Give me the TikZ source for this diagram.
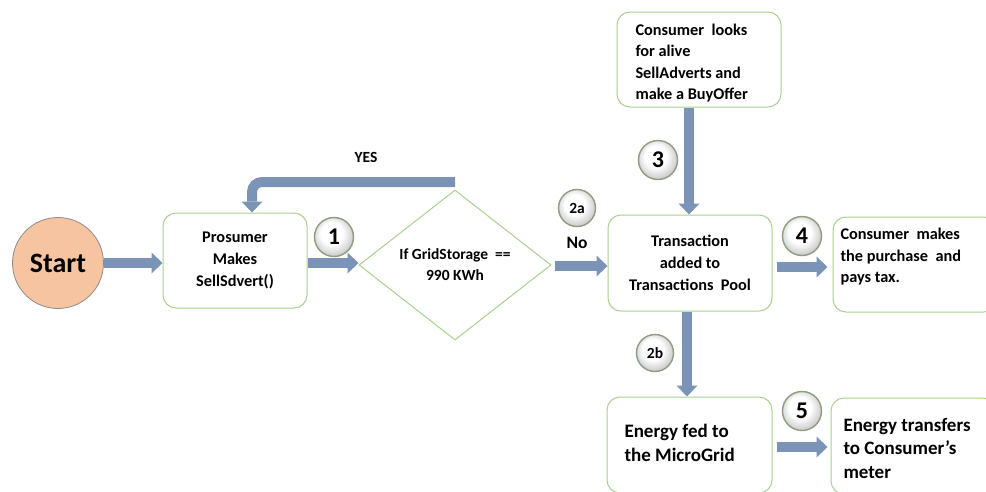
\documentclass[tikz,border=0pt]{standalone}
\usepackage{fontspec}
\setmainfont{Carlito}
\usetikzlibrary{arrows.meta,shapes.geometric,calc}
\definecolor{boxedge}{HTML}{A9D08E}
\definecolor{arrowfill}{HTML}{7A93B6}
\definecolor{startfill}{HTML}{F7C4A2}
\definecolor{startedge}{HTML}{8C8C8C}
\definecolor{badgeedge}{HTML}{8E9D80}
\pgfdeclareradialshading{badgeshade}{\pgfpoint{-4bp}{6bp}}{%
  color(0bp)=(white); color(14bp)=(white); color(30bp)=(black!25);
  color(44bp)=(black!50); color(50bp)=(black!55)}
\tikzset{
  box/.style={draw=boxedge, line width=1pt, rounded corners=13pt, fill=white,
    align=center, inner sep=0pt, font=\bfseries\fontsize{16.3}{22}\selectfont},
  boxtext/.style={anchor=west, align=left, inner sep=0pt},
  badge/.style={circle, draw=badgeedge, line width=1.4pt, inner sep=0pt,
    minimum size=39pt, shading=badgeshade,
    font=\bfseries\fontsize{24}{25}\selectfont},
  smallbadge/.style={badge, minimum size=37pt, font=\bfseries\fontsize{15.5}{16}\selectfont},
  barrow/.style={draw=arrowfill, line width=10pt,
    -{Triangle[length=11pt,width=21pt,line width=0pt]}},
  lbl/.style={inner sep=0pt, font=\bfseries\fontsize{15.5}{18}\selectfont}
}
\begin{document}
\begin{tikzpicture}[x=1pt,y=-1pt]
\path[use as bounding box, clip] (0,0) rectangle (986,491);
\fill[white] (0,0) rectangle (986,491);

% start
\node[circle, fill=startfill, draw=startedge, line width=0.8pt, minimum size=91pt,
  inner sep=0pt, font=\bfseries\fontsize{28}{30}\selectfont] (start) at (58,263) {Start};

% boxes
\node[box, minimum width=144pt, minimum height=95pt] (pros) at (235,260.5)
  {Prosumer\\Makes\\SellSdvert()};
\node[diamond, draw=boxedge, line width=1pt, minimum width=192pt, minimum height=150pt,
  inner sep=0pt, align=center, font=\bfseries\fontsize{15.5}{21}\selectfont] (dia) at (455,265)
  {If GridStorage ~==\\990 KWh};
\node[box, minimum width=164pt, minimum height=96pt] (trans) at (690,263)
  {Transaction\\added to\\Transactions~ Pool};
\node[box, minimum width=164pt, minimum height=95pt] (look) at (699,59.5) {};
\node[box, boxtext, font=\bfseries\fontsize{16.3}{21.3}\selectfont, draw=none, fill=none] (looktext) at (635,63)
  {Consumer~ looks\\for alive\\SellAdverts and\\make a BuyOffer};
\node[box, minimum width=164pt, minimum height=95pt] (cbuy) at (915,264.5) {};
\node[box, boxtext, draw=none, fill=none, font=\bfseries\fontsize{16.3}{21.5}\selectfont] (cbuytext) at (840,257)
  {Consumer~ makes\\the purchase~ and\\pays tax.};
\node[box, minimum width=165pt, minimum height=96pt] (efed) at (689.5,445) {};
\node[box, boxtext, draw=none, fill=none, font=\bfseries\fontsize{19}{24}\selectfont] (efedtext) at (624,443)
  {Energy fed to\\the MicroGrid};
\node[box, minimum width=165pt, minimum height=96pt] (etr) at (913.5,446) {};
\node[box, boxtext, draw=none, fill=none, font=\bfseries\fontsize{19}{23.5}\selectfont] (etrtext) at (843,448)
  {Energy transfers\\to Consumer’s\\meter};

% badges
\node[badge] (b1) at (334,237) {1};
\node[smallbadge] (b2a) at (577,208) {2a};
\node[lbl, font=\bfseries\fontsize{17.5}{18}\selectfont] (no) at (577,243) {No};
\node[badge] (b3) at (658,160) {3};
\node[badge] (b4) at (802,236) {4};
\node[smallbadge] (b2b) at (655,353) {2b};
\node[badge] (b5) at (802,411) {5};
\node[lbl] (yes) at (366,157) {YES};

% arrows
\draw[barrow] (start.east) -- (start.east -| pros.west);
\draw[barrow] ($(pros.east)+(0,2.5)$) -- ($(pros.east -| dia.west)+(0,2.5)$);
\draw[barrow, shorten <=3pt] ($(dia.east)+(0,1)$) -- ($(dia.east -| trans.west)+(0,1)$);
\draw[barrow] ($(trans.north |- look.south)+(-1,0)$) -- ($(trans.north)+(-1,0)$);
\draw[barrow, shorten <=4pt, shorten >=5pt] ($(trans.east)+(0,4)$) -- ($(trans.east -| cbuy.west)+(0,4)$);
\draw[barrow] ($(trans.south)+(-3,0)$) -- ($(trans.south |- efed.north)+(-3,0)$);
\draw[barrow, shorten <=4pt, shorten >=3pt] ($(efed.east)+(0,2)$) -- ($(efed.east -| etr.west)+(0,2)$);
\coordinate (yesA) at (455,182);
\coordinate (yesB) at ($(pros.north)+(17,0)$);
\draw[barrow, rounded corners=10pt] (yesA) -- (yesA -| yesB) -- (yesB);
\end{tikzpicture}
\end{document}
